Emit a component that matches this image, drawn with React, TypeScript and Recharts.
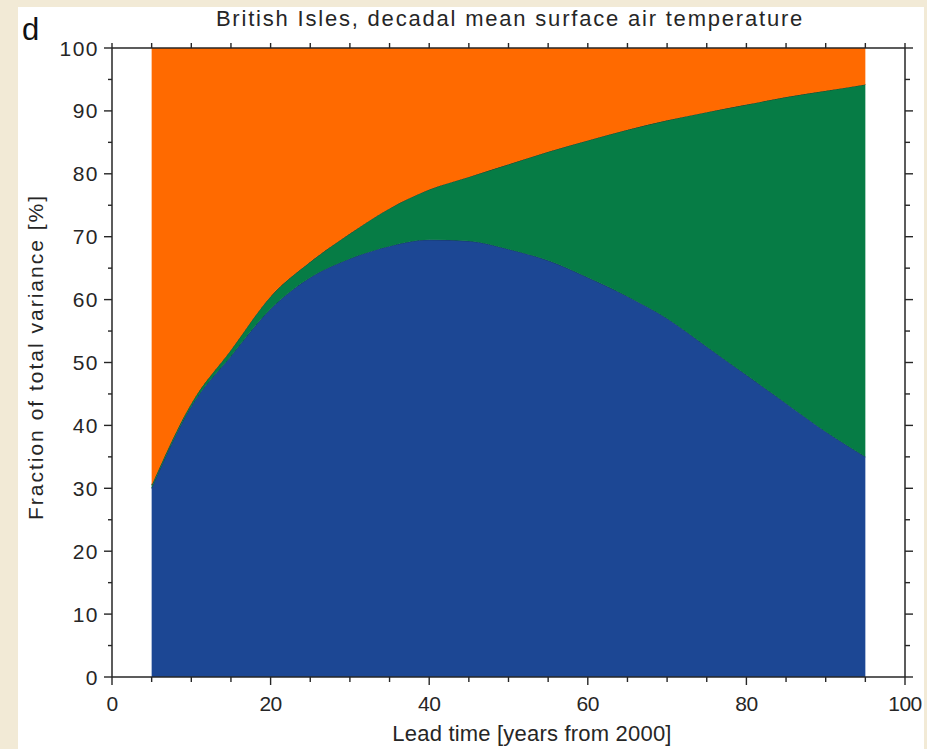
import { AreaChart, Area, XAxis, YAxis } from "recharts";

const leadTimes = [5, 10, 15, 20, 25, 30, 35, 40, 45, 50, 55, 60, 65, 70, 75, 80, 85, 90, 95];
const blueShare = [30, 43, 51, 58.5, 63.5, 66.5, 68.5, 69.5, 69.3, 68, 66.2, 63.5, 60.5, 57, 52.5, 48, 43.5, 39, 35];
const greenShare = [0.5, 0.5, 1, 2, 2.5, 4, 6, 8, 10.2, 13.5, 17.3, 21.8, 26.5, 31.5, 37.3, 43, 48.7, 54.2, 59.2];
const orangeShare = [69.5, 56.5, 48, 39.5, 34, 29.5, 25.5, 22.5, 20.5, 18.5, 16.5, 14.7, 13, 11.5, 10.2, 9, 7.8, 6.8, 5.8];
const xTicks = [0, 5, 10, 15, 20, 25, 30, 35, 40, 45, 50, 55, 60, 65, 70, 75, 80, 85, 90, 95, 100];
const yTicks = [0, 5, 10, 15, 20, 25, 30, 35, 40, 45, 50, 55, 60, 65, 70, 75, 80, 85, 90, 95, 100];

const data = leadTimes.map((t, i) => ({
  t,
  blue: blueShare[i],
  green: greenShare[i],
  orange: orangeShare[i],
}));

const FONT = "'Liberation Sans', Arial, sans-serif";
const INK = "#262626";

const BottomTick = ({ x, y, payload }: any) => {
  const v = payload.value;
  const major = v % 20 === 0;
  return (
    <g>
      <line x1={x} x2={x} y1={y} y2={y + (major ? 8 : 5)} stroke={INK} strokeWidth={1.4} />
      {major && (
        <text x={x} y={y + 34} textAnchor="middle" fontSize={21} fontFamily={FONT} fill={INK} letterSpacing={-0.5}>
          {v}
        </text>
      )}
    </g>
  );
};

const TopTick = ({ x, y }: any) => (
  <line x1={x} x2={x} y1={y} y2={y - 5} stroke={INK} strokeWidth={1.4} />
);

const LeftTick = ({ x, y, payload }: any) => {
  const v = payload.value;
  const major = v % 10 === 0;
  return (
    <g>
      <line x1={x - (major ? 8 : 4)} x2={x} y1={y} y2={y} stroke={INK} strokeWidth={1.4} />
      {major && (
        <text x={x - 13} y={y + 7.5} textAnchor="end" fontSize={21} fontFamily={FONT} fill={INK} letterSpacing={1.5}>
          {v}
        </text>
      )}
    </g>
  );
};

const RightTick = ({ x, y, payload }: any) => {
  const major = payload.value % 10 === 0;
  return <line x1={x} x2={x + (major ? 8 : 5)} y1={y} y2={y} stroke={INK} strokeWidth={1.4} />;
};

export default function App() {
  return (
    <div style={{ position: "fixed", left: 0, top: 0, width: 927, height: 749, background: "#f2ead6" }}>
      <div style={{ position: "absolute", left: 18, top: 7, width: 906, height: 742, background: "#ffffff" }} />
      <div style={{ position: "absolute", left: 0, top: 0 }}>
        <AreaChart width={927} height={749} data={data} margin={{ top: 38, right: 7, left: 52, bottom: 32 }}>
          <XAxis
            xAxisId="b"
            type="number"
            dataKey="t"
            domain={[0, 100]}
            ticks={xTicks}
            interval={0}
            height={40}
            tickSize={0}
            tickMargin={0}
            tick={<BottomTick />}
            axisLine={{ stroke: INK, strokeWidth: 1.5 }}
            tickLine={false}
            allowDataOverflow
          />
          <XAxis
            xAxisId="top"
            orientation="top"
            type="number"
            dataKey="t"
            domain={[0, 100]}
            ticks={xTicks}
            interval={0}
            height={10}
            tickSize={0}
            tickMargin={0}
            tick={<TopTick />}
            axisLine={{ stroke: INK, strokeWidth: 1.5 }}
            tickLine={false}
            allowDataOverflow
          />
          <YAxis
            yAxisId="l"
            type="number"
            domain={[0, 100]}
            ticks={yTicks}
            interval={0}
            width={60}
            tickSize={0}
            tickMargin={0}
            tick={<LeftTick />}
            axisLine={{ stroke: INK, strokeWidth: 1.5 }}
            tickLine={false}
            allowDataOverflow
          />
          <YAxis
            yAxisId="r"
            orientation="right"
            type="number"
            domain={[0, 100]}
            ticks={yTicks}
            interval={0}
            width={15}
            tickSize={0}
            tickMargin={0}
            tick={<RightTick />}
            axisLine={{ stroke: INK, strokeWidth: 1.5 }}
            tickLine={false}
            allowDataOverflow
          />
          <Area
            xAxisId="b"
            yAxisId="l"
            type="monotone"
            dataKey="blue"
            stackId="v"
            fill="#1c4794"
            fillOpacity={1}
            stroke="#173a6a"
            strokeWidth={1}
            isAnimationActive={false}
          />
          <Area
            xAxisId="b"
            yAxisId="l"
            type="monotone"
            dataKey="green"
            stackId="v"
            fill="#067c45"
            fillOpacity={1}
            stroke="#2a3f2a"
            strokeWidth={1}
            isAnimationActive={false}
          />
          <Area
            xAxisId="b"
            yAxisId="l"
            type="monotone"
            dataKey="orange"
            stackId="v"
            fill="#ff6a00"
            fillOpacity={1}
            stroke="none"
            isAnimationActive={false}
          />
          <text x={510} y={26} textAnchor="middle" fontSize={22} fontFamily={FONT} fill={INK} letterSpacing={1.8}>
            British Isles, decadal mean surface air temperature
          </text>
          <text x={22} y={40} fontSize={31} fontFamily={FONT} fill="#111">
            d
          </text>
          <text
            x={0}
            y={0}
            transform="translate(43 357) rotate(-90)"
            textAnchor="middle"
            fontSize={21}
            fontFamily={FONT}
            fill={INK}
            letterSpacing={2}
          >
            Fraction of total variance  [%]
          </text>
          <text x={532} y={741} textAnchor="middle" fontSize={22} fontFamily={FONT} fill={INK} letterSpacing={0.2}>
            Lead time  [years from 2000]
          </text>
        </AreaChart>
      </div>
    </div>
  );
}
